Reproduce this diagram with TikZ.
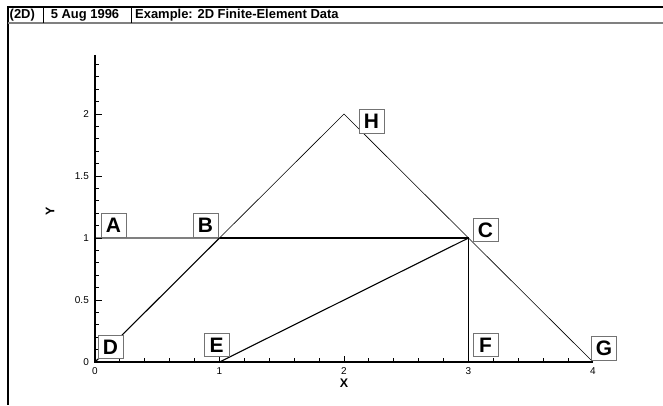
\documentclass[tikz,border=0pt]{standalone}
\usepackage{fontspec}
\setmainfont{Liberation Sans}
\begin{document}
\begin{tikzpicture}[x=1bp,y=-1bp,
  lbl/.style={draw=black!55, line width=0.9bp, fill=white,
    font=\fontsize{21}{21}\selectfont\bfseries,
    minimum width=25bp, minimum height=23.5bp, inner sep=0pt},
  hdr/.style={font=\fontsize{13}{13}\selectfont\bfseries, inner sep=0pt},
  ticklbl/.style={font=\fontsize{10}{10}\selectfont, inner sep=0pt},
  axtitle/.style={font=\fontsize{12.5}{12.5}\selectfont\bfseries, inner sep=0pt},
  thinline/.style={line width=0.6bp},
  medline/.style={line width=1.1bp},
  thickline/.style={line width=2bp},
  greyline/.style={line width=1.5bp, black!50},
  axisline/.style={line width=2bp},
  tickline/.style={line width=1bp}]
\useasboundingbox (0,0) rectangle (663,405);
% frame and header
\draw[line width=2.2bp] (7,7) -- (663,7);
\draw[line width=1.2bp] (8,6) -- (8,405);
\draw[line width=1.2bp, black!50] (8,23) -- (663,23);
\draw[line width=1bp] (43,7) -- (43,23);
\draw[line width=1bp] (131,7) -- (131,23);
\node[hdr, anchor=west] (h1) at (9.5,15.5) {(2D)};
\node[hdr] (h2) at (85,15.5) {5 Aug 1996};
\node[hdr, anchor=west] (h3) at (135,15.5) {Example: 2D Finite-Element Data};
% data
\begin{scope}[shift={(95bp,-362bp)}, x=124.5bp, y=124bp]
  \coordinate (pA) at (0,1);
  \coordinate (pB) at (1,1);
  \coordinate (pC) at (3,1);
  \coordinate (pD) at (0,0);
  \coordinate (pE) at (1,0);
  \coordinate (pF) at (3,0);
  \coordinate (pG) at (4,0);
  \coordinate (pH) at (2,2);
  \draw[greyline] (pA) -- (pB);
  \draw[thickline] (pB) -- (pC);
  \draw[medline] (pD) -- (pB);
  \draw[thinline] (pB) -- (pH) -- (pG);
  \draw[medline] (pE) -- (pC);
  \draw[medline] (pC) -- (pF);
  % axes
  \coordinate (ytop) at (0,2.476);
  \draw[axisline] (ytop) -- (pD) -- (pG);
  \foreach \i in {1,...,24} {\draw[tickline] (0,\i/10) -- ++(4bp,0);}
  \foreach \v in {0.5,1,1.5,2} {\draw[tickline] (0,\v) -- ++(7bp,0);}
  \foreach \i in {1,...,19} {\draw[tickline] (\i/5,0) -- ++(0,4bp);}
  \foreach \v in {1,2,3} {\draw[tickline] (\v,0) -- ++(0,6.5bp);}
  \foreach \v/\t in {0/0,0.5/0.5,1/1,1.5/1.5,2/2}
    {\node[ticklbl, anchor=east] (ty\t) at ([xshift=-6bp]0,\v) {\t};}
  \foreach \v in {0,1,2,3,4}
    {\node[ticklbl, anchor=north] (tx\v) at ([yshift=-5.5bp]\v,0) {\v};}
  \node[axtitle] (xt) at ([yshift=-21bp]2,0) {X};
  \node[axtitle, rotate=90] (yt) at ([xshift=-45bp]0,1.218) {Y};
\end{scope}
% point labels
\node[lbl] (A) at (113.5,225.5) {A};
\node[lbl] (B) at (205.5,225.5) {B};
\node[lbl] (C) at (485.5,230) {C};
\node[lbl] (D) at (110.5,347) {D};
\node[lbl] (E) at (216.5,345) {E};
\node[lbl] (F) at (485.5,345) {F};
\node[lbl] (G) at (604,348.5) {G};
\node[lbl] (H) at (371.5,121.5) {H};
\end{tikzpicture}
\end{document}
